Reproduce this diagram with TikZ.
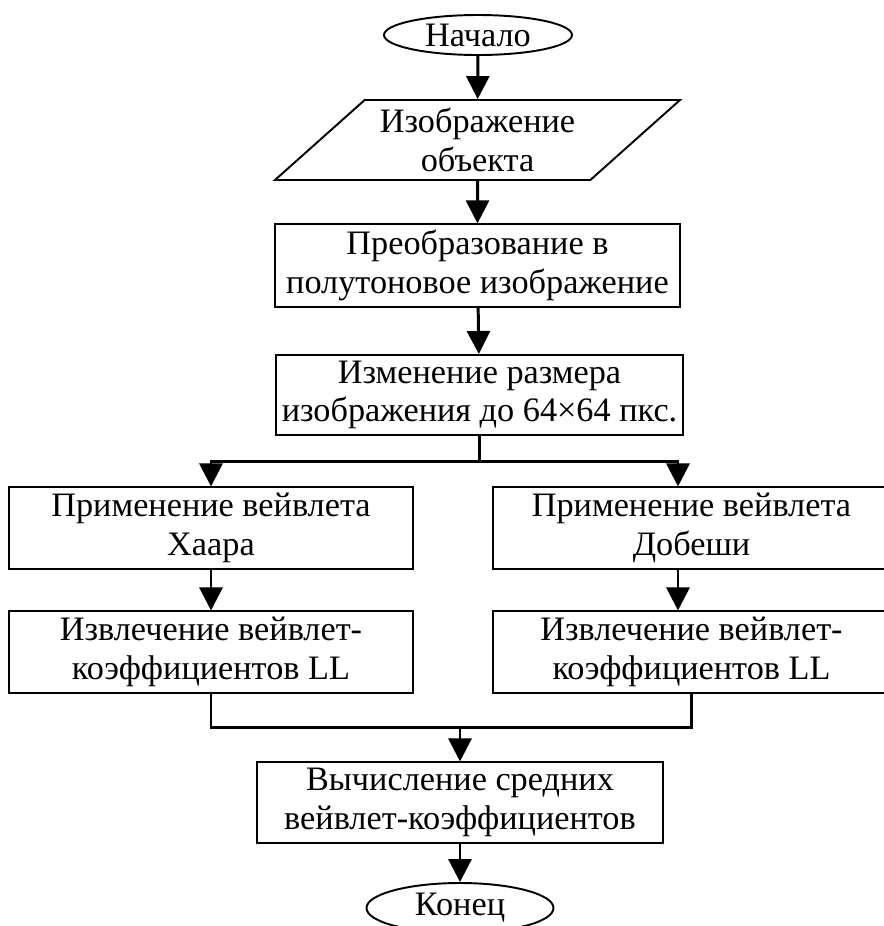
\documentclass[tikz,border=0pt]{standalone}
\usepackage{fontspec}
\setmainfont{Liberation Serif}
\usetikzlibrary{shapes.geometric, arrows.meta, calc}

\begin{document}
\begin{tikzpicture}[>={Triangle[length=0.46cm, width=0.46cm]},
  every node/.style={font=\fontsize{19.5}{22}\selectfont, align=center},
  terminal/.style={draw, ellipse, line width=1.1pt, minimum width=3.76cm, minimum height=0.8cm, inner sep=0pt},
  io/.style={draw, trapezium, trapezium left angle=40, trapezium right angle=140, trapezium stretches body=true, minimum width=8.1cm, minimum height=1.6cm, line width=1.1pt},
  block/.style={draw, rectangle, minimum width=8.1cm, minimum height=1.6cm, line width=1.1pt},
  flow/.style={->, line width=1.7pt}]
\useasboundingbox (0,0) rectangle (17.68,-18.52);
\node[terminal] (Start) at (9.56,-0.70) {Начало};
\node[io] (Input) at (9.55,-2.8) {Изображение\\объекта};
\node[block] (Gray) at (9.55,-5.31) {Преобразование в\\полутоновое изображение};
\node[block] (Resize) at (9.59,-7.9) {Изменение размера\\изображения до 64×64 пкс.};
\node[block, minimum width=8.08cm] (Haar) at (4.22,-10.56) {Применение вейвлета\\Хаара};
\node[block, minimum width=7.94cm] (Daub) at (13.83,-10.56) {Применение вейвлета\\Добеши};
\node[block, minimum width=8.08cm] (HaarLL) at (4.22,-13.04) {Извлечение вейвлет-\\коэффициентов LL};
\node[block, minimum width=7.94cm] (DaubLL) at (13.83,-13.04) {Извлечение вейвлет-\\коэффициентов LL};
\node[block, minimum width=8.12cm, minimum height=1.58cm] (Mean) at (9.2,-16.05) {Вычисление средних\\вейвлет-коэффициентов};
\node[terminal, minimum width=3.74cm, minimum height=1.0cm] (Stop) at (9.2,-18.16) {Конец};
\coordinate (Split) at (9.59,-9.22);
\coordinate (Join) at (9.2,-14.54);
\draw[flow] (Start) -- (Input);
\draw[flow] (Input) -- (Gray);
\draw[flow] (Gray) -- (Resize);
\draw[line width=1.7pt] (Resize.south) -- (Split);
\draw[flow] (Split) -| (Haar.north);
\draw[flow] (Split) -| ($(Daub.north)+(-0.27,0)$);
\draw[flow] (Haar) -- (HaarLL);
\draw[flow] ($(Daub.south)+(-0.27,0)$) -- ($(DaubLL.north)+(-0.27,0)$);
\draw[line width=1.7pt] (HaarLL.south) |- (Join) -| (DaubLL.south);
\draw[flow] (Join) -- (Mean.north);
\draw[flow] (Mean) -- (Stop);
\end{tikzpicture}
\end{document}
